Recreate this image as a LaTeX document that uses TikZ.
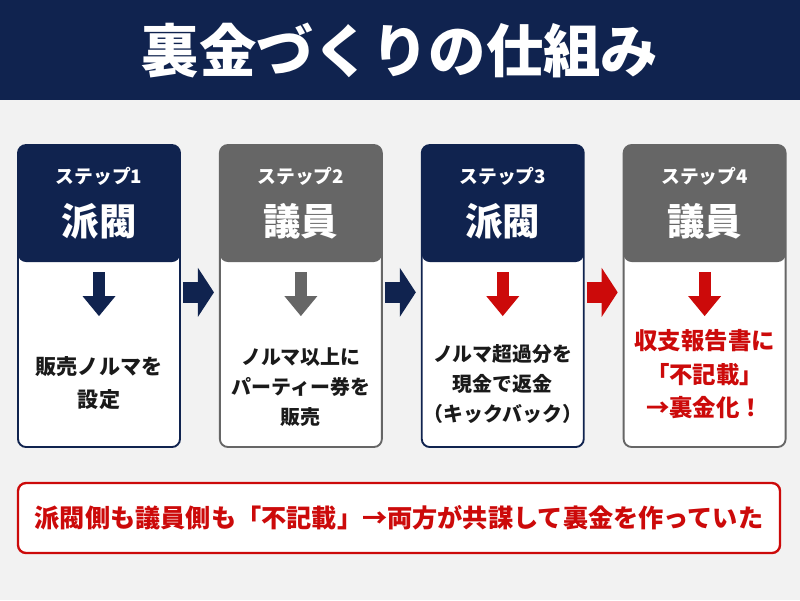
\documentclass[tikz,border=0pt]{standalone}
\usepackage{fontspec}
\setmainfont{Noto Sans CJK JP}[BoldFont={Noto Sans CJK JP Black}]
\usepackage{xcolor}
\definecolor{urnavy}{HTML}{10234F}
\definecolor{urgray}{HTML}{666666}
\definecolor{urred}{HTML}{CC0A0A}
\definecolor{urbg}{HTML}{F2F2F2}
\definecolor{urink}{HTML}{1A1A1A}
\usepackage{tikz}
\usetikzlibrary{arrows.meta, positioning, calc}

\begin{document}
\begin{tikzpicture}[
  node distance=1cm and 1.14cm,
  stepbox/.style={rectangle, draw=#1, fill=white, line width=1.6pt,
                  rounded corners=0.24cm,
                  minimum width=4.86cm, minimum height=9.06cm,
                  path picture={\fill[#1]
                    (path picture bounding box.north west) rectangle
                    ([yshift=-3.51cm]path picture bounding box.north east);}},
  steplbl/.style={text=white, inner sep=0pt,
                  font=\bfseries\fontsize{16}{18}\selectfont},
  actor/.style={text=white, inner sep=0pt,
                font=\bfseries\fontsize{32}{36}\selectfont},
  body/.style={text=urink, align=center, inner sep=0pt,
               font=\bfseries\fontsize{17}{25.6}\selectfont},
  downarr/.style={-{Triangle[width=0.99cm, length=0.6cm, line width=0pt]},
                  line width=0.36cm, color=#1},
  sidearr/.style={-{Triangle[width=1.47cm, length=0.48cm, line width=0pt]},
                  line width=0.63cm, color=#1,
                  shorten <=0.06cm, shorten >=0.15cm},
  note/.style={rectangle, draw=urred, fill=white, line width=2pt,
               rounded corners=0.24cm,
               minimum width=22.86cm, minimum height=2.1cm,
               text=urred, font=\bfseries\fontsize{21.5}{26}\selectfont}
]
  % page and title band
  \fill[urbg] (0,0) rectangle (24,-18);
  \useasboundingbox (0,0) rectangle (24,-18);
  \node[fill=urnavy, minimum width=24cm, minimum height=3cm,
        text=white, font=\bfseries\fontsize{49}{56}\selectfont] (title)
    at (12,-1.5) {裏金づくりの仕組み};

  % the four steps
  \node[stepbox=urnavy] (s1) at (2.97,-8.88) {};
  \node[stepbox=urgray, right=1.14cm of s1] (s2) {};
  \node[stepbox=urnavy, right=1.14cm of s2] (s3) {};
  \node[stepbox=urgray, right=1.14cm of s3] (s4) {};

  \node[steplbl] (l1) at ([yshift=-0.96cm]s1.north) {ステップ1};
  \node[steplbl] (l2) at ([yshift=-0.96cm]s2.north) {ステップ2};
  \node[steplbl] (l3) at ([yshift=-0.96cm]s3.north) {ステップ3};
  \node[steplbl] (l4) at ([yshift=-0.96cm]s4.north) {ステップ4};

  \node[actor] (a1) at ([yshift=-2.31cm]s1.north) {派閥};
  \node[actor] (a2) at ([yshift=-2.31cm]s2.north) {議員};
  \node[actor] (a3) at ([yshift=-2.31cm]s3.north) {派閥};
  \node[actor] (a4) at ([yshift=-2.31cm]s4.north) {議員};

  \node[body, font=\bfseries\fontsize{18}{28}\selectfont] (b1)
    at ([yshift=-7.16cm]s1.north) {販売ノルマを\\設定};
  \node[body] (b2) at ([yshift=-7.29cm]s2.north)
    {ノルマ以上に\\パーティー券を\\販売};
  \node[body] (b3) at ([yshift=-7.19cm]s3.north)
    {ノルマ超過分を\\現金で返金\\（キックバック）};
  \node[body, text=urred, font=\bfseries\fontsize{20}{29}\selectfont] (b4)
    at ([yshift=-6.9cm]s4.north) {収支報告書に\\「不記載」\\→裏金化！};

  \draw[downarr=urnavy] ([yshift=-3.84cm]s1.north) -- ++(0,-1.32);
  \draw[downarr=urgray] ([yshift=-3.84cm]s2.north) -- ++(0,-1.32);
  \draw[downarr=urred] ([yshift=-3.84cm]s3.north) -- ++(0,-1.32);
  \draw[downarr=urred] ([yshift=-3.84cm]s4.north) -- ++(0,-1.32);

  \draw[sidearr=urnavy] ([yshift=0.11cm]s1.east) -- ([yshift=0.11cm]s2.west);
  \draw[sidearr=urnavy] ([yshift=0.11cm]s2.east) -- ([yshift=0.11cm]s3.west);
  \draw[sidearr=urred] ([yshift=0.11cm]s3.east) -- ([yshift=0.11cm]s4.west);

  % summary
  \node[note] (sum) at (11.97,-15.54)
    {派閥側も議員側も「不記載」→両方が共謀して裏金を作っていた};
\end{tikzpicture}
\end{document}
